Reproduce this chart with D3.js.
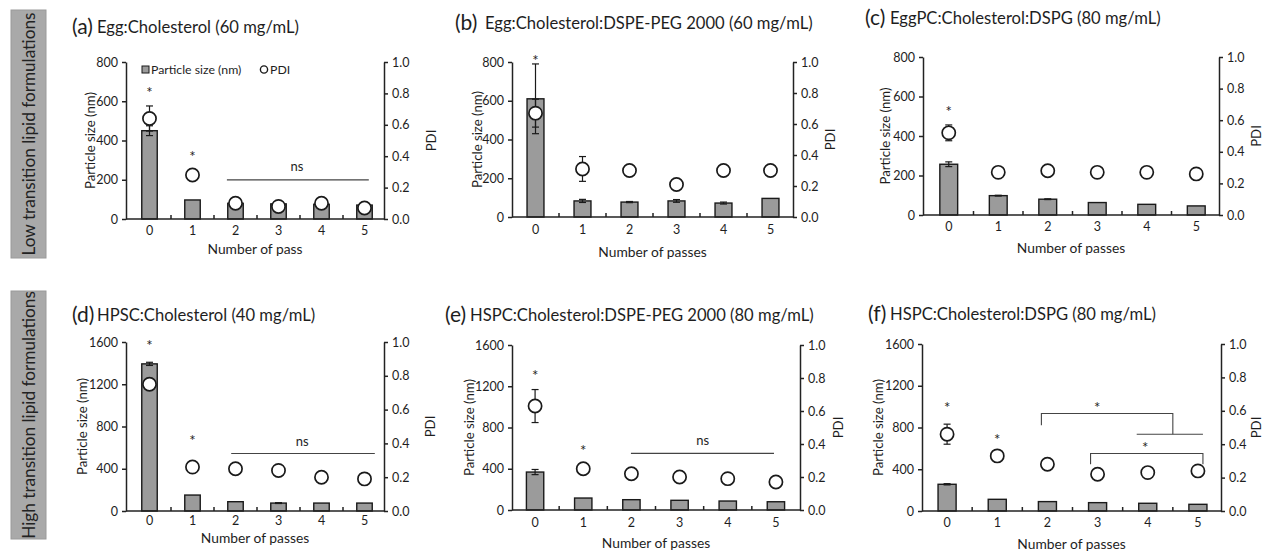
<!DOCTYPE html>
<html><head><meta charset="utf-8">
<script src="https://cdn.jsdelivr.net/npm/d3@7"></script>
<style>body{margin:0;background:#fff}</style>
</head><body>
<svg id="chart" width="1266" height="552"></svg>
<script>
// ---------- data ----------
const passes = ["0","1","2","3","4","5"];
const sizeTicksLow = [0,200,400,600,800];
const sizeTicksHigh = [0,400,800,1200,1600];
const pdiTicks = [0,0.2,0.4,0.6,0.8,1.0];
const groupLabels = ["Low transition lipid formulations","High transition lipid formulations"];
const letters = ["(a)","(b)","(c)","(d)","(e)","(f)"];
const titles = ["Egg:Cholesterol (60 mg/mL)","Egg:Cholesterol:DSPE-PEG 2000 (60 mg/mL)","EggPC:Cholesterol:DSPG (80 mg/mL)",
  "HPSC:Cholesterol (40 mg/mL)","HSPC:Cholesterol:DSPE-PEG 2000 (80 mg/mL)","HSPC:Cholesterol:DSPG (80 mg/mL)"];
const xTitles = ["Number of pass","Number of passes","Number of passes","Number of passes","Number of passes","Number of passes"];
const yTitle = "Particle size (nm)";
const rTitle = "PDI";
const legendLabels = ["Particle size (nm)","PDI"];

const sizeA = [450, 97, 80, 77, 75, 71];     const sizeErrA = [25, 0, 0, 0, 0, 0];
const pdiA  = [0.64, 0.28, 0.10, 0.08, 0.10, 0.07]; const pdiErrA = [0.08, 0, 0, 0, 0, 0];
const sizeB = [610, 83, 77, 83, 72, 96];     const sizeErrB = [180, 8, 3, 7, 5, 0];
const pdiB  = [0.67, 0.31, 0.30, 0.21, 0.30, 0.30]; const pdiErrB = [0.09, 0.08, 0, 0, 0.03, 0];
const sizeC = [257, 98, 80, 63, 54, 46];     const sizeErrC = [12, 2, 2, 0, 0, 0];
const pdiC  = [0.52, 0.27, 0.28, 0.27, 0.27, 0.26]; const pdiErrC = [0.05, 0, 0, 0, 0, 0];
const sizeD = [1393, 151, 88, 75, 75, 75];   const sizeErrD = [15, 0, 0, 4, 0, 0];
const pdiD  = [0.75, 0.26, 0.25, 0.24, 0.20, 0.19]; const pdiErrD = [0, 0, 0, 0, 0, 0];
const sizeE = [368, 116, 100, 94, 87, 80];   const sizeErrE = [25, 0, 0, 0, 0, 0];
const pdiE  = [0.63, 0.25, 0.22, 0.20, 0.19, 0.17]; const pdiErrE = [0.10, 0, 0, 0, 0, 0];
const sizeF = [256, 112, 90, 80, 74, 64];    const sizeErrF = [6, 0, 0, 0, 0, 0];
const pdiF  = [0.46, 0.33, 0.28, 0.22, 0.23, 0.24]; const pdiErrF = [0.06, 0, 0, 0, 0, 0];

// significance marks: [pass position, PDI level]
const starsA = [[0,0.82],[1,0.41]];
const starsB = [[0,1.02]];
const starsC = [[0,0.665]];
const starsD = [[0,0.99],[1,0.43]];
const starsE = [[0,0.83],[1,0.375]];
const starsF = [[0,0.63],[1,0.44],[2.99,0.63],[3.95,0.39]];
// ns lines: [from, to, level, labelPos, labelLevel]
const nsA = [1.8, 5.1, 0.249, 3.43, 0.33];
const nsD = [1.9, 5.24, 0.34, 3.55, 0.41];
const nsE = [1.99, 4.96, 0.343, 3.48, 0.42];
// brackets in (f): polyline points [pass position, PDI level]
const bracketF1 = [[1.88,0.514],[1.88,0.584],[4.5,0.584],[4.5,0.46]];
const bracketF1b = [[3.78,0.46],[5.1,0.46]];
const bracketF2 = [[2.86,0.28],[2.86,0.344],[5.1,0.344],[5.1,0.28]];

const panelData = [
  {size:sizeA, sErr:sizeErrA, pdi:pdiA, pErr:pdiErrA, sTicks:sizeTicksLow, stars:starsA, ns:nsA, lines:[]},
  {size:sizeB, sErr:sizeErrB, pdi:pdiB, pErr:pdiErrB, sTicks:sizeTicksLow, stars:starsB, ns:null, lines:[]},
  {size:sizeC, sErr:sizeErrC, pdi:pdiC, pErr:pdiErrC, sTicks:sizeTicksLow, stars:starsC, ns:null, lines:[]},
  {size:sizeD, sErr:sizeErrD, pdi:pdiD, pErr:pdiErrD, sTicks:sizeTicksHigh, stars:starsD, ns:nsD, lines:[]},
  {size:sizeE, sErr:sizeErrE, pdi:pdiE, pErr:pdiErrE, sTicks:sizeTicksHigh, stars:starsE, ns:nsE, lines:[]},
  {size:sizeF, sErr:sizeErrF, pdi:pdiF, pErr:pdiErrF, sTicks:sizeTicksHigh, stars:starsF, ns:null, lines:[bracketF1,bracketF1b,bracketF2]}
];

// ---------- layout ----------
const layout = [
  {left:126, right:384, bL:128, bR:386, top:62, bottom:219, lx:72, tx:97, ty:34, ylx:90, rlx:431, xly:235, xty:254},
  {left:512, right:793, bL:512, bR:794, top:62, bottom:217, lx:455, tx:485, ty:30, ylx:477, rlx:830, xly:234, xty:257},
  {left:923, right:1219, bL:924, bR:1221, top:57, bottom:215, lx:865, tx:890, ty:25, ylx:885, rlx:1256, xly:231, xty:253},
  {left:126, right:384, bL:128, bR:386, top:342, bottom:511, lx:72, tx:97, ty:322, ylx:82, rlx:430, xly:525, xty:543},
  {left:512, right:800, bL:511, bR:800, top:345, bottom:510, lx:445, tx:470, ty:322, ylx:469, rlx:838, xly:527, xty:548},
  {left:922, right:1221, bL:922, bR:1223, top:344, bottom:511, lx:868, tx:890, ty:321, ylx:878, rlx:1256, xly:527, xty:549}
];

const FONT = "Lato, 'Open Sans', sans-serif";
const INK = "#1e1e1e";
const svg = d3.select("#chart").style("font-family", FONT);

// group side labels
[[11,10,35,248],[11,291,35,248]].forEach((b,i)=>{
  svg.append("rect").attr("x",b[0]).attr("y",b[1]).attr("width",b[2]).attr("height",b[3])
    .attr("fill","#a9a9a9").attr("stroke","#9a9a9a");
  svg.append("text").attr("transform",`translate(${b[0]+b[2]/2+6},${b[1]+b[3]/2}) rotate(-90)`)
    .attr("text-anchor","middle").attr("font-size",17.2).attr("fill","#222").text(groupLabels[i]);
});

panelData.forEach((d,i)=>{
  const L = layout[i];
  const g = svg.append("g");
  const x = d3.scaleBand().domain(passes).range([L.bL, L.bR]);
  const bw = x.bandwidth();
  const px = p => L.bL + bw*(p+0.5);
  const y = d3.scaleLinear().domain([0, d.sTicks[d.sTicks.length-1]]).range([L.bottom, L.top]);
  const yr = d3.scaleLinear().domain([0,1]).range([L.bottom, L.top]);

  // title
  g.append("text").attr("x",L.lx).attr("y",L.ty).attr("font-size",21).attr("fill",INK).text(letters[i]);
  g.append("text").attr("x",L.tx).attr("y",L.ty-1).attr("font-size",16.6).attr("fill",INK).text(titles[i]);

  // bars
  const barW = bw*0.36;
  g.selectAll("rect.bar").data(passes).join("rect").attr("class","bar")
    .attr("x",p=>x(p)+bw/2-barW/2).attr("width",barW)
    .attr("y",(p,k)=>y(d.size[k])).attr("height",(p,k)=>L.bottom-y(d.size[k]))
    .attr("fill","#9b9b9b").attr("stroke","#1a1a1a").attr("stroke-width",1.4);

  // error bars helper
  const err = (cx, y1, y2) => {
    g.append("line").attr("x1",cx).attr("x2",cx).attr("y1",y1).attr("y2",y2).attr("stroke","#1a1a1a").attr("stroke-width",1.2);
    [y1,y2].forEach(yy=>g.append("line").attr("x1",cx-3.5).attr("x2",cx+3.5).attr("y1",yy).attr("y2",yy).attr("stroke","#1a1a1a").attr("stroke-width",1.2));
  };
  passes.forEach((p,k)=>{
    if (d.sErr[k]>0) err(x(p)+bw/2, y(d.size[k]+d.sErr[k]), y(d.size[k]-d.sErr[k]));
  });
  passes.forEach((p,k)=>{
    if (d.pErr[k]>0) err(x(p)+bw/2, yr(d.pdi[k]+d.pErr[k]), yr(d.pdi[k]-d.pErr[k]));
  });
  g.selectAll("circle.pdi").data(passes).join("circle").attr("class","pdi")
    .attr("cx",p=>x(p)+bw/2).attr("cy",(p,k)=>yr(d.pdi[k])).attr("r",6.6)
    .attr("fill","#fff").attr("stroke","#1a1a1a").attr("stroke-width",1.7);

  // axes
  const axStyle = sel => {
    sel.selectAll("path,line").attr("stroke","#222").attr("stroke-width",1.5);
    sel.selectAll("text").attr("fill",INK).attr("font-size",12.5).attr("font-family",FONT);
  };
  g.append("g").attr("transform",`translate(${L.left},0)`)
    .call(d3.axisLeft(y).tickValues(d.sTicks).tickFormat(d3.format("d")).tickSize(4).tickSizeOuter(0).tickPadding(4)).call(axStyle);
  g.append("g").attr("transform",`translate(${L.right},0)`)
    .call(d3.axisRight(yr).tickValues(pdiTicks).tickFormat(d3.format(".1f")).tickSize(4).tickSizeOuter(0).tickPadding(4)).call(axStyle);
  g.append("line").attr("x1",L.left).attr("x2",L.right).attr("y1",L.bottom).attr("y2",L.bottom)
    .attr("stroke","#222").attr("stroke-width",1.5);
  passes.slice(1).forEach(p=>g.append("line").attr("x1",x(p)).attr("x2",x(p)).attr("y1",L.bottom).attr("y2",L.bottom-4)
    .attr("stroke","#222").attr("stroke-width",1.5));
  g.selectAll("text.xl").data(passes).join("text").attr("class","xl")
    .attr("x",p=>x(p)+bw/2).attr("y",L.xly).attr("text-anchor","middle").attr("font-size",12.5).attr("fill",INK).text(p=>p);

  // axis titles
  g.append("text").attr("transform",`translate(${L.ylx},${(L.top+L.bottom)/2}) rotate(-90)`)
    .attr("dy","0.35em").attr("text-anchor","middle").attr("font-size",13.2).attr("fill",INK).text(yTitle);
  g.append("text").attr("transform",`translate(${L.rlx},${(L.top+L.bottom)/2}) rotate(-90)`)
    .attr("dy","0.35em").attr("text-anchor","middle").attr("font-size",13.2).attr("fill",INK).text(rTitle);
  g.append("text").attr("x",(L.left+L.right)/2).attr("y",L.xty).attr("text-anchor","middle")
    .attr("font-size",13.8).attr("fill",INK).text(xTitles[i]);

  // stars
  d.stars.forEach(s=>g.append("text").attr("x",px(s[0])).attr("y",yr(s[1])+7.5).attr("text-anchor","middle")
    .attr("font-size",15).attr("fill",INK).text("*"));
  // ns
  if (d.ns) {
    g.append("line").attr("x1",px(d.ns[0])).attr("x2",px(d.ns[1])).attr("y1",yr(d.ns[2])).attr("y2",yr(d.ns[2]))
      .attr("stroke","#444").attr("stroke-width",1.1);
    g.append("text").attr("x",px(d.ns[3])).attr("y",yr(d.ns[4])+4).attr("text-anchor","middle")
      .attr("font-size",13).attr("fill",INK).text("ns");
  }
  d.lines.forEach(pts=>g.append("path").attr("d",d3.line().x(q=>px(q[0])).y(q=>yr(q[1]))(pts))
    .attr("fill","none").attr("stroke","#444").attr("stroke-width",1.1));

  // legend in (a)
  if (i===0) {
    g.append("rect").attr("x",142).attr("y",66).attr("width",7).attr("height",7)
      .attr("fill","#9b9b9b").attr("stroke","#1a1a1a").attr("stroke-width",1);
    g.append("text").attr("x",151).attr("y",74).attr("font-size",12.3).attr("fill",INK).text(legendLabels[0]);
    g.append("circle").attr("cx",264).attr("cy",69.5).attr("r",3.6).attr("fill","#fff").attr("stroke","#1a1a1a").attr("stroke-width",1.4);
    g.append("text").attr("x",270).attr("y",74).attr("font-size",12.3).attr("fill",INK).text(legendLabels[1]);
  }
});
</script>
</body></html>
